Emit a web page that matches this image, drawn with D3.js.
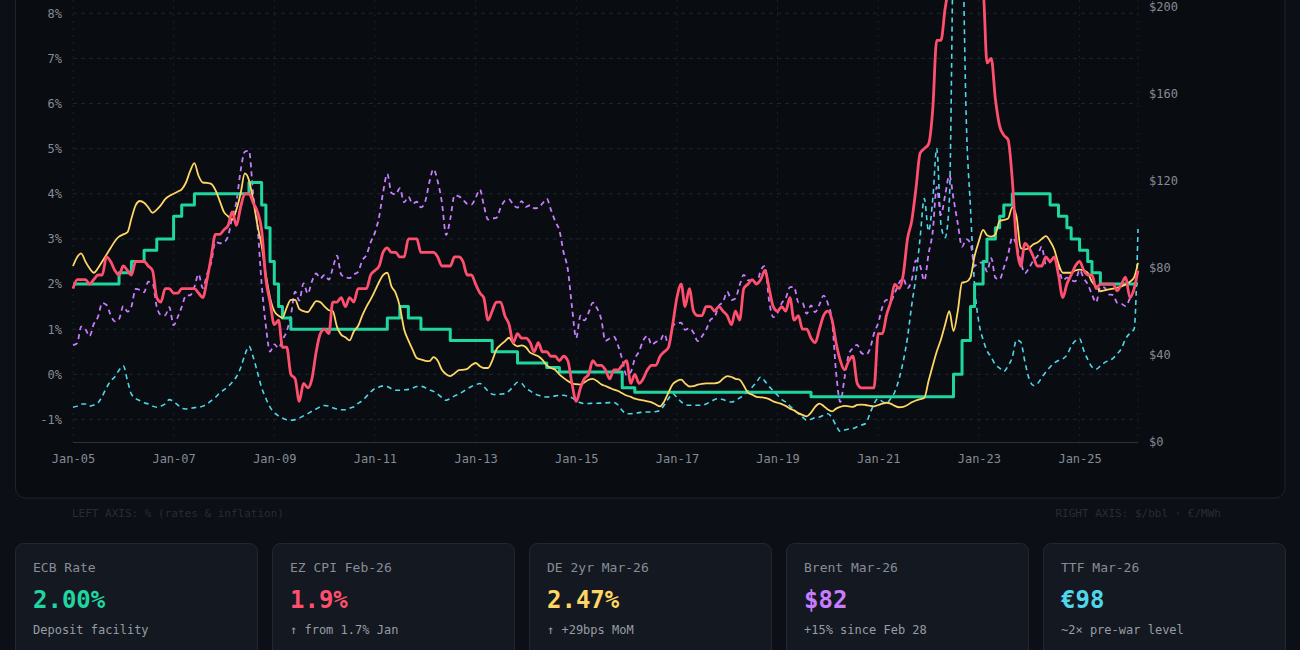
<!DOCTYPE html>
<html>
<head>
<meta charset="utf-8">
<script src="https://cdn.jsdelivr.net/npm/d3@7"></script>
<style>
  html, body { margin: 0; padding: 0; background: #0c0f15; }
  svg { display: block; }
</style>
</head>
<body>
<div id="chart"></div>
<script>
// monthly series, Jan-05 .. Mar-26 (255 points)

// ECB policy rate, %
const ecbRate = [
  2, 2, 2, 2, 2, 2, 2, 2, 2, 2, 2, 2.25,
  2.25, 2.25, 2.5, 2.5, 2.5, 2.75, 2.75, 2.75, 3, 3, 3, 3,
  3.5, 3.5, 3.75, 3.75, 3.75, 4, 4, 4, 4, 4, 4, 4,
  4, 4, 4, 4, 4, 4, 4.25, 4.25, 4.25, 3.75, 3.25, 2.5,
  2, 1.5, 1.25, 1.25, 1, 1, 1, 1, 1, 1, 1, 1,
  1, 1, 1, 1, 1, 1, 1, 1, 1, 1, 1, 1,
  1, 1, 1, 1.25, 1.25, 1.25, 1.5, 1.5, 1.25, 1.25, 1.25, 1,
  1, 1, 1, 1, 1, 1, 0.75, 0.75, 0.75, 0.75, 0.75, 0.75,
  0.75, 0.75, 0.75, 0.75, 0.5, 0.5, 0.5, 0.5, 0.5, 0.5, 0.25, 0.25,
  0.25, 0.25, 0.25, 0.25, 0.25, 0.15, 0.15, 0.15, 0.05, 0.05, 0.05, 0.05,
  0.05, 0.05, 0.05, 0.05, 0.05, 0.05, 0.05, 0.05, 0.05, 0.05, 0.05, -0.3,
  -0.3, -0.3, -0.4, -0.4, -0.4, -0.4, -0.4, -0.4, -0.4, -0.4, -0.4, -0.4,
  -0.4, -0.4, -0.4, -0.4, -0.4, -0.4, -0.4, -0.4, -0.4, -0.4, -0.4, -0.4,
  -0.4, -0.4, -0.4, -0.4, -0.4, -0.4, -0.4, -0.4, -0.4, -0.4, -0.4, -0.4,
  -0.4, -0.4, -0.4, -0.4, -0.4, -0.4, -0.4, -0.4, -0.5, -0.5, -0.5, -0.5,
  -0.5, -0.5, -0.5, -0.5, -0.5, -0.5, -0.5, -0.5, -0.5, -0.5, -0.5, -0.5,
  -0.5, -0.5, -0.5, -0.5, -0.5, -0.5, -0.5, -0.5, -0.5, -0.5, -0.5, -0.5,
  -0.5, -0.5, -0.5, -0.5, -0.5, -0.5, 0, 0, 0.75, 0.75, 1.5, 2,
  2, 2.5, 3, 3, 3.25, 3.5, 3.75, 3.75, 4, 4, 4, 4,
  4, 4, 4, 4, 4, 3.75, 3.75, 3.5, 3.5, 3.25, 3, 3,
  2.75, 2.75, 2.5, 2.25, 2.25, 2, 2, 2, 2, 2, 2, 2,
  2, 2, 2
];

// euro area HICP, % y/y
const ezCpi = [
  1.9, 2.1, 2.1, 2.1, 2.0, 2.1, 2.2, 2.2, 2.6, 2.5, 2.3, 2.2,
  2.4, 2.3, 2.2, 2.5, 2.5, 2.5, 2.4, 2.3, 1.7, 1.6, 1.9, 1.9,
  1.8, 1.8, 1.9, 1.9, 1.9, 1.9, 1.8, 1.7, 2.1, 2.6, 3.1, 3.1,
  3.2, 3.3, 3.6, 3.3, 3.7, 4.0, 4.0, 3.8, 3.6, 3.2, 2.1, 1.6,
  1.1, 1.2, 0.6, 0.6, 0.0, -0.1, -0.6, -0.2, -0.3, -0.1, 0.5, 0.9,
  1.0, 0.9, 1.6, 1.6, 1.7, 1.5, 1.7, 1.6, 1.9, 1.9, 1.9, 2.2,
  2.3, 2.4, 2.7, 2.8, 2.7, 2.7, 2.6, 2.6, 3.0, 3.0, 3.0, 2.7,
  2.7, 2.7, 2.7, 2.6, 2.4, 2.4, 2.4, 2.6, 2.6, 2.5, 2.2, 2.2,
  2.0, 1.8, 1.7, 1.2, 1.4, 1.6, 1.6, 1.3, 1.1, 0.7, 0.9, 0.8,
  0.8, 0.7, 0.5, 0.7, 0.5, 0.5, 0.4, 0.4, 0.3, 0.4, 0.3, -0.2,
  -0.6, -0.3, -0.1, 0.0, 0.3, 0.2, 0.2, 0.1, -0.1, 0.1, 0.1, 0.2,
  0.3, -0.2, 0.0, -0.2, -0.1, 0.1, 0.2, 0.2, 0.4, 0.5, 0.6, 1.1,
  1.7, 2.0, 1.5, 1.9, 1.4, 1.3, 1.3, 1.5, 1.5, 1.4, 1.5, 1.4,
  1.3, 1.1, 1.4, 1.2, 1.9, 2.0, 2.1, 2.0, 2.1, 2.3, 1.9, 1.5,
  1.4, 1.5, 1.4, 1.7, 1.2, 1.3, 1.0, 1.0, 0.8, 0.7, 1.0, 1.3,
  1.4, 1.2, 0.7, 0.3, 0.1, 0.3, 0.4, -0.2, -0.3, -0.3, -0.3, -0.3,
  0.9, 0.9, 1.3, 1.6, 2.0, 1.9, 2.2, 3.0, 3.4, 4.1, 4.9, 5.0,
  5.1, 5.9, 7.4, 7.4, 8.1, 8.6, 8.9, 9.1, 9.9, 10.6, 10.1, 9.2,
  8.6, 8.5, 6.9, 7.0, 6.1, 5.5, 5.3, 5.2, 4.3, 2.9, 2.4, 2.9,
  2.8, 2.6, 2.4, 2.4, 2.6, 2.5, 2.6, 2.2, 1.7, 2.0, 2.2, 2.4,
  2.5, 2.3, 2.2, 2.2, 1.9, 2.0, 2.0, 2.0, 2.0, 1.85, 2.0, 2.15,
  1.7, 1.9, 2.3
];

// German 2-year yield, %
const de2yr = [
  2.4, 2.6, 2.68, 2.5, 2.35, 2.25, 2.35, 2.5, 2.65, 2.8, 2.95, 3.05,
  3.1, 3.15, 3.45, 3.75, 3.84, 3.8, 3.7, 3.58, 3.65, 3.75, 3.88, 3.95,
  4.0, 4.05, 4.1, 4.25, 4.5, 4.68, 4.4, 4.25, 4.24, 4.22, 4.08, 3.85,
  3.6, 3.5, 3.43, 3.65, 4.0, 4.45, 4.3, 3.85, 3.3, 2.85, 2.2, 1.7,
  1.4, 1.3, 1.25, 1.48, 1.65, 1.65, 1.45, 1.4, 1.38, 1.5, 1.62, 1.6,
  1.5, 1.42, 1.4, 1.05, 0.88, 0.82, 0.75, 0.95, 1.07, 1.3, 1.5, 1.66,
  1.85, 2.05, 2.2, 2.25, 1.95, 1.8, 1.5, 1.0, 0.75, 0.55, 0.36, 0.33,
  0.3, 0.29, 0.38, 0.3, 0.1, 0.0, -0.04, 0.02, 0.09, 0.1, 0.12, 0.2,
  0.25, 0.18, 0.14, 0.14, 0.3, 0.55, 0.65, 0.73, 0.81, 0.68, 0.62, 0.64,
  0.6, 0.48, 0.44, 0.4, 0.32, 0.2, 0.14, 0.1, 0.0, -0.08, -0.15, -0.2,
  -0.22, -0.23, -0.18, -0.12, -0.1, -0.15, -0.22, -0.26, -0.3, -0.34, -0.37, -0.42,
  -0.47, -0.5, -0.54, -0.56, -0.58, -0.6, -0.62, -0.67, -0.71, -0.6, -0.4, -0.22,
  -0.15, -0.12, -0.2, -0.27, -0.26, -0.23, -0.21, -0.2, -0.2, -0.2, -0.18, -0.1,
  -0.04, -0.06, -0.1, -0.12, -0.25, -0.41, -0.45, -0.5, -0.51, -0.52, -0.55, -0.6,
  -0.63, -0.66, -0.7, -0.76, -0.8, -0.86, -0.9, -0.93, -0.85, -0.72, -0.65, -0.7,
  -0.78, -0.82, -0.76, -0.72, -0.7, -0.71, -0.72, -0.68, -0.67, -0.68, -0.7, -0.71,
  -0.68, -0.65, -0.63, -0.65, -0.7, -0.73, -0.72, -0.68, -0.62, -0.58, -0.55, -0.52,
  -0.15, 0.2, 0.5, 0.77, 1.1, 1.4, 0.96, 1.4, 2.03, 2.05, 2.15, 2.62,
  2.95, 3.2, 3.08, 3.05, 3.1, 3.4, 3.42, 3.45, 3.7, 3.5, 2.8, 2.77,
  2.8, 2.88, 2.92, 3.0, 3.06, 2.95, 2.77, 2.45, 2.25, 2.25, 2.25, 2.3,
  2.32, 2.3, 2.25, 2.05, 1.95, 1.84, 1.86, 1.88, 1.9, 1.92, 1.95, 1.99,
  2.05, 2.15, 2.47
];

// Brent crude, $/bbl (right axis)
const brent = [
  44.5, 45.5, 53.1, 51.9, 48.7, 54.3, 57.5, 63.9, 63.0, 58.5, 55.5, 56.5,
  62.5, 60.0, 62.3, 70.4, 70.0, 68.9, 73.7, 73.2, 62.1, 58.5, 58.3, 62.0,
  53.7, 57.6, 62.1, 67.4, 67.5, 71.3, 77.2, 70.8, 77.2, 82.4, 92.1, 91.4,
  91.9, 94.8, 103.3, 110.4, 124.6, 133.5, 133.9, 113.9, 99.1, 72.8, 53.2, 41.6,
  44.9, 43.2, 47.0, 50.9, 58.2, 69.1, 65.0, 73.0, 68.2, 73.9, 77.5, 75.2,
  76.9, 74.7, 79.9, 85.7, 77.0, 75.7, 75.4, 77.1, 78.2, 83.5, 86.1, 91.8,
  96.3, 103.7, 114.6, 123.3, 114.5, 113.9, 116.7, 110.2, 112.8, 109.6, 110.5, 107.9,
  110.6, 119.7, 125.5, 119.8, 110.3, 95.2, 102.6, 113.4, 113.0, 111.5, 109.5, 109.2,
  112.3, 116.1, 109.0, 102.3, 102.8, 103.1, 107.7, 111.0, 111.6, 109.1, 107.8, 110.8,
  108.1, 108.9, 107.5, 107.8, 109.7, 111.9, 106.9, 101.6, 97.3, 87.3, 79.4, 62.3,
  47.8, 58.1, 55.9, 59.5, 64.1, 61.5, 56.6, 46.5, 47.6, 48.4, 44.3, 38.0,
  30.7, 32.2, 38.2, 41.6, 46.7, 48.8, 44.7, 46.0, 46.6, 49.7, 44.7, 53.3,
  54.6, 54.9, 51.6, 52.3, 50.3, 46.4, 48.5, 51.7, 56.2, 57.5, 62.7, 64.4,
  69.1, 65.3, 66.0, 72.1, 76.9, 74.4, 74.3, 72.5, 78.9, 81.0, 64.8, 57.4,
  59.4, 64.0, 66.1, 71.2, 71.3, 64.2, 63.9, 59.0, 62.8, 59.7, 63.2, 67.3,
  63.7, 55.5, 32.0, 18.4, 29.4, 40.3, 43.2, 44.7, 40.9, 40.2, 42.7, 49.9,
  54.8, 62.3, 65.4, 64.8, 68.5, 73.2, 75.2, 70.8, 74.5, 83.5, 81.0, 74.2,
  86.5, 97.1, 117.3, 104.6, 113.3, 122.7, 111.9, 100.5, 89.8, 93.3, 91.4, 80.9,
  82.5, 82.6, 78.4, 84.6, 75.5, 74.8, 80.1, 86.2, 94.0, 90.6, 82.9, 77.6,
  80.1, 83.5, 85.4, 89.9, 81.8, 82.6, 85.3, 80.9, 74.3, 75.6, 74.4, 73.9,
  79.2, 75.2, 72.6, 67.8, 64.2, 71.4, 71.0, 67.9, 67.6, 64.0, 63.6, 62.5,
  66.0, 70.5, 80.0
];

// TTF gas, EUR/MWh (right axis)
const ttf = [
  16, 16.5, 17.5, 17.5, 16.5, 17, 18, 21, 25, 28, 30, 33,
  35, 28, 22, 20, 19, 18, 17.5, 16.5, 16, 16.5, 17.5, 19.5,
  18.5, 17, 15.5, 15.2, 15.4, 15.8, 16, 16.5, 17.5, 19, 20.5, 22.5,
  24, 25.5, 27.5, 30, 34, 40, 44, 39, 32, 25, 20, 16,
  13.5, 12, 11, 10.2, 10, 10.3, 11, 12, 13, 14.2, 15.2, 16.2,
  16.8, 16.5, 15.8, 15.2, 14.8, 14.8, 15.5, 16.2, 17.8, 19, 21, 23,
  24.6, 25.3, 25.8, 25.5, 24.5, 23.8, 23.8, 24, 24.2, 24.8, 25.5, 25.6,
  25, 24, 23.3, 22, 20.5, 19.2, 20, 21.2, 22, 23.2, 24.4, 25.5,
  26.3, 26.9, 25.5, 23.5, 22, 21.8, 22, 22.3, 23.5, 25.5, 27.5, 27,
  24.6, 23.5, 22.3, 21.5, 21, 20.7, 20.8, 21.2, 21.5, 21.5, 21, 20.3,
  19, 18, 17.7, 17.7, 17.8, 17.8, 17.9, 18, 18.1, 18.2, 17, 14.5,
  13, 13, 13.2, 13.5, 13.8, 13.8, 13.8, 14, 14.6, 17, 20, 22.3,
  20.5, 18.5, 17.2, 16.9, 16.9, 16.9, 16.9, 17.5, 18.5, 19.5, 20, 19.5,
  18.8, 18.4, 19, 20.3, 21.5, 23.5, 25.2, 27.5, 29.9, 28, 25.5, 23.5,
  21.5, 19.5, 18.4, 16.5, 14.8, 13, 11.5, 10, 10.5, 11.2, 11.5, 12.3,
  13, 11, 7.5, 4.8, 5.5, 6, 6.2, 7, 7.8, 8.5, 13, 17.5,
  20, 18.5, 17.8, 20, 23, 29, 37, 48, 63, 76, 94, 112,
  97, 112, 135, 100, 94, 111, 240, 330, 250, 150, 108, 72,
  55, 47, 42, 39, 35.5, 34, 32.5, 35, 39, 47, 46, 37,
  29, 26, 26.8, 29.5, 32.2, 34.5, 36.3, 37.5, 38.2, 40, 44, 46.5,
  47.5, 42, 38, 34.5, 33.5, 35, 36.5, 37.5, 38.5, 40.5, 43, 47.5,
  50, 52, 98
];

const xTickLabels = ["Jan-05", "Jan-07", "Jan-09", "Jan-11", "Jan-13", "Jan-15",
                     "Jan-17", "Jan-19", "Jan-21", "Jan-23", "Jan-25"];
const leftTicks = [-1, 0, 1, 2, 3, 4, 5, 6, 7, 8];
const rightTicks = [0, 40, 80, 120, 160, 200];

const cardLabels = ["ECB Rate", "EZ CPI Feb-26", "DE 2yr Mar-26", "Brent Mar-26", "TTF Mar-26"];
const cardValues = ["2.00%", "1.9%", "2.47%", "$82", "€98"];
const cardNotes = ["Deposit facility", "↑ from 1.7% Jan", "↑ +29bps MoM", "+15% since Feb 28", "~2× pre-war level"];

const C = {
    ecb: "#1fd6a0",
    cpi: "#ff4f6e",
    de2: "#fdd663",
    brent: "#c77dff",
    ttf: "#4fd6ea"
};
const cardColors = [C.ecb, C.cpi, C.de2, C.brent, C.ttf];

const FONT = "'DejaVu Sans Mono', 'Liberation Mono', monospace";

const W = 1300, H = 650;
const plot = {left: 73, right: 1138, top: -77, bottom: 442};

const months = d3.timeMonth.range(new Date(2005, 0, 1), new Date(2026, 3, 1));

const svg = d3.select("#chart")
    .append("svg")
    .attr("width", W)
    .attr("height", H)
    .style("font-family", FONT);

svg.append("rect").attr("width", W).attr("height", H).attr("fill", "#0c0f15");

// chart panel (its top sits above the visible area)
svg.append("rect")
    .attr("x", 15.5).attr("y", -40)
    .attr("width", 1269.5).attr("height", 538)
    .attr("rx", 10)
    .attr("fill", "#090c11")
    .attr("stroke", "#1e242e");

const x = d3.scaleTime()
    .domain([months[0], months[months.length - 1]])
    .range([plot.left, plot.right]);

const yL = d3.scaleLinear()
    .domain([-1.5, 10])
    .range([plot.bottom, plot.top]);

const yR = d3.scaleLinear()
    .domain([0, 238.7])
    .range([plot.bottom, plot.top]);

const xTickDates = xTickLabels.map(s => new Date(2000 + Number(s.slice(4)), 0, 1));

// grid
const grid = svg.append("g");
grid.selectAll("line.h")
    .data(leftTicks.concat([9, 10]))
    .join("line")
    .attr("x1", plot.left).attr("x2", plot.right)
    .attr("y1", d => yL(d)).attr("y2", d => yL(d))
    .attr("stroke", "#1f2631")
    .attr("stroke-dasharray", "4,4");

grid.selectAll("line.v")
    .data(xTickDates.concat([months[months.length - 1]]))
    .join("line")
    .attr("x1", d => x(d)).attr("x2", d => x(d))
    .attr("y1", plot.top).attr("y2", plot.bottom)
    .attr("stroke", "#1a2029")
    .attr("stroke-dasharray", "2,5");

// axes
const xAxis = svg.append("g")
    .attr("transform", `translate(0,${plot.bottom})`)
    .call(d3.axisBottom(x)
        .tickValues(xTickDates)
        .tickFormat((d, i) => xTickLabels[i])
        .tickSize(0)
        .tickPadding(12));

const leftAxis = svg.append("g")
    .attr("transform", `translate(${plot.left},0)`)
    .call(d3.axisLeft(yL)
        .tickValues(leftTicks)
        .tickFormat(d => d + "%")
        .tickSize(0)
        .tickPadding(11));

const rightAxis = svg.append("g")
    .attr("transform", `translate(${plot.right},0)`)
    .call(d3.axisRight(yR)
        .tickValues(rightTicks)
        .tickFormat(d => "$" + d)
        .tickSize(0)
        .tickPadding(11));

[xAxis, leftAxis, rightAxis].forEach(g => {
    g.select(".domain").remove();
    g.selectAll("text")
        .style("font-family", FONT)
        .style("font-size", "12px")
        .attr("fill", "#858b95");
});

svg.append("line")
    .attr("x1", plot.left).attr("x2", plot.right)
    .attr("y1", plot.bottom + 0.5).attr("y2", plot.bottom + 0.5)
    .attr("stroke", "#2b3140");

// lines
svg.append("clipPath").attr("id", "clip")
    .append("rect")
    .attr("x", plot.left - 2).attr("y", plot.top)
    .attr("width", plot.right - plot.left + 4)
    .attr("height", plot.bottom - plot.top);

const lines = svg.append("g").attr("clip-path", "url(#clip)");

function addLine(values, yScale, color, width, dash, curve) {
    lines.append("path")
        .datum(values)
        .attr("fill", "none")
        .attr("stroke", color)
        .attr("stroke-width", width)
        .attr("stroke-dasharray", dash)
        .attr("stroke-linejoin", "round")
        .attr("d", d3.line()
            .x((d, i) => x(months[i]))
            .y(d => yScale(d))
            .curve(curve));
}

addLine(ttf, yR, C.ttf, 1.6, "5,4", d3.curveMonotoneX);
addLine(brent, yR, C.brent, 1.8, "5,4", d3.curveMonotoneX);
addLine(ecbRate, yL, C.ecb, 3, null, d3.curveStepAfter);
addLine(de2yr, yL, C.de2, 1.8, null, d3.curveMonotoneX);
addLine(ezCpi, yL, C.cpi, 2.8, null, d3.curveMonotoneX);

// axis notes under the panel
svg.append("text").attr("x", 72).attr("y", 517)
    .text("LEFT AXIS: % (rates & inflation)")
    .style("font-size", "11px").attr("fill", "#272d37");
svg.append("text").attr("x", 1221).attr("y", 517)
    .attr("text-anchor", "end")
    .text("RIGHT AXIS: $/bbl · €/MWh")
    .style("font-size", "11px").attr("fill", "#272d37");

// stat cards
const cardW = 242, cardStep = 257;
const cards = svg.selectAll("g.card")
    .data(cardLabels)
    .join("g")
    .attr("class", "card")
    .attr("transform", (d, i) => `translate(${15.5 + i * cardStep},543.5)`);

cards.append("rect")
    .attr("width", cardW).attr("height", 140)
    .attr("rx", 8)
    .attr("fill", "#141820")
    .attr("stroke", "#222832");

cards.append("text")
    .attr("x", 17.5).attr("y", 28.5)
    .text(d => d)
    .style("font-size", "13px")
    .attr("fill", "#878d97");

cards.append("text")
    .attr("x", 17.5).attr("y", 64.5)
    .text((d, i) => cardValues[i])
    .style("font-size", "24px")
    .style("font-weight", "bold")
    .attr("fill", (d, i) => cardColors[i]);

cards.append("text")
    .attr("x", 17.5).attr("y", 90.5)
    .text((d, i) => cardNotes[i])
    .style("font-size", "12px")
    .attr("fill", "#979da6");
</script>
</body>
</html>
